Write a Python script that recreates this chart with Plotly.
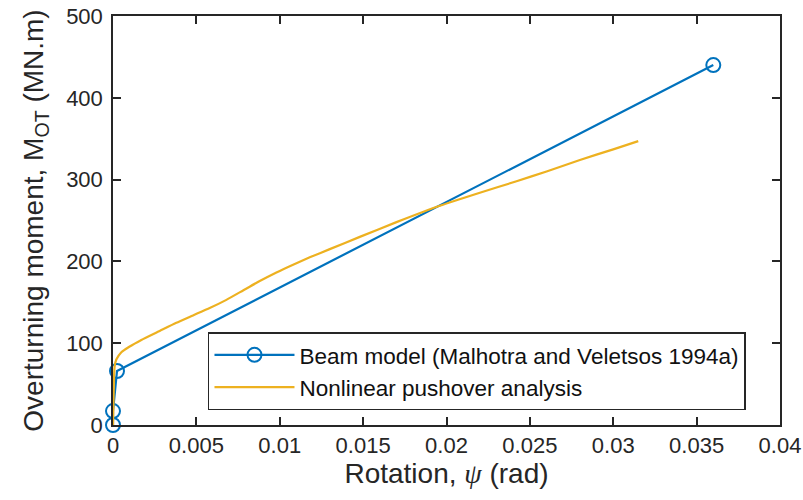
import plotly.graph_objects as go

# Beam model (Malhotra and Veletsos 1994a): rotation (rad) vs overturning moment (MN.m)
beam_rotation = [0.0, 0.0, 0.00024, 0.036]
beam_moment = [0.0, 17.0, 66.0, 440.0]

# Nonlinear pushover analysis curve
push_rotation = [0.0, 0.00003, 0.00006, 0.0001, 0.0002, 0.0005, 0.001, 0.0017,
                 0.0028, 0.0038, 0.0048, 0.0058, 0.0068, 0.0078, 0.0088, 0.0098,
                 0.0108, 0.0118, 0.013, 0.0148, 0.017, 0.0196, 0.022, 0.0242,
                 0.026, 0.028, 0.03, 0.0315]
push_moment = [0.0, 30.0, 58.0, 72.0, 80.0, 89.0, 96.0, 104.0,
               115.0, 125.0, 134.0, 143.0, 153.0, 164.5, 176.0, 186.5,
               196.0, 205.0, 215.0, 230.0, 248.0, 268.0, 284.0, 298.0,
               310.0, 324.0, 337.0, 347.0]

x_ticks = [0, 0.005, 0.01, 0.015, 0.02, 0.025, 0.03, 0.035, 0.04]
x_tick_text = ["0", "0.005", "0.01", "0.015", "0.02", "0.025", "0.03", "0.035", "0.04"]
y_ticks = [0, 100, 200, 300, 400, 500]

BLUE = "#0072BD"
GOLD = "#EDB120"
AXIS = "#262626"
FONT = "Liberation Sans, Arial, Helvetica, sans-serif"

fig = go.Figure()
fig.add_trace(go.Scatter(
    x=beam_rotation, y=beam_moment, mode="lines+markers",
    name="Beam model (Malhotra and Veletsos 1994a)",
    line=dict(color=BLUE, width=2.2),
    marker=dict(symbol="circle-open", size=14, color=BLUE, line=dict(width=2, color=BLUE)),
    cliponaxis=False,
))
fig.add_trace(go.Scatter(
    x=push_rotation, y=push_moment, mode="lines",
    name="Nonlinear pushover analysis",
    line=dict(color=GOLD, width=2.2, shape="spline", smoothing=0.5),
))

axis_common = dict(
    showline=True, linecolor=AXIS, linewidth=1.5, mirror="allticks",
    ticks="inside", ticklen=8, tickwidth=1.5, tickcolor=AXIS,
    showgrid=False, zeroline=False,
    tickfont=dict(family=FONT, size=22, color=AXIS),
)

fig.update_xaxes(
    range=[0, 0.04], tickvals=x_ticks, ticktext=x_tick_text,
    title=dict(text="Rotation, <span style=\"font-family:'Liberation Serif', serif\"><i>ψ</i></span> (rad)",
               font=dict(family=FONT, size=28, color=AXIS), standoff=4),
    **axis_common,
)
fig.update_yaxes(
    range=[0, 500], tickvals=y_ticks, ticklabelstandoff=4,
    title=dict(text="Overturning moment, M<sub>OT</sub> (MN.m)",
               font=dict(family=FONT, size=28, color=AXIS), standoff=14),
    **axis_common,
)

fig.update_layout(
    width=803, height=500,
    margin=dict(l=113, r=23, t=16, b=75, autoexpand=False),
    plot_bgcolor="white", paper_bgcolor="white",
    font=dict(family=FONT, color=AXIS),
    legend=dict(
        x=0.1424, y=0.227, xanchor="left", yanchor="top",
        bgcolor="white", bordercolor=AXIS, borderwidth=1.5,
        font=dict(family=FONT, size=22.5, color="#111111"),
        itemwidth=80, tracegroupgap=0,
    ),
    showlegend=True,
)

fig.write_html("out.html")
